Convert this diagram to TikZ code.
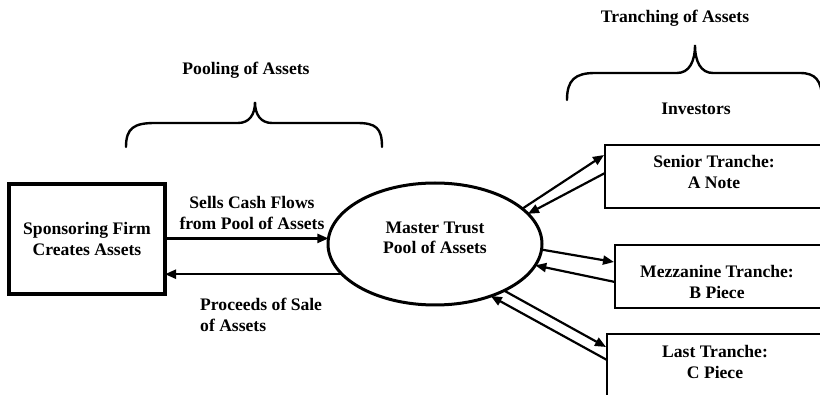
\documentclass[tikz,border=0pt]{standalone}
\usepackage{fontspec}
\setmainfont{Liberation Serif}
\usetikzlibrary{arrows.meta,shapes.geometric,calc}
\begin{document}
\begin{tikzpicture}[x=1pt,y=-1pt,
  txt/.style={font=\fontsize{17.6}{20.5}\selectfont\bfseries, align=center, inner sep=0pt},
  arr/.style={line width=2.2pt, -{Triangle[length=11pt,width=9pt]}},
  tbox/.style={draw, line width=1.8pt, rectangle, minimum width=300pt, anchor=north west, inner sep=0pt, outer sep=0pt},
  brace/.style={line width=2.4pt, line cap=round}]
\clip (0,0) rectangle (820,395);
\fill[white] (0,0) rectangle (820,395);

% boxes
\node[draw, line width=3.5pt, minimum width=156pt, minimum height=110pt, inner sep=0pt, outer sep=0pt, txt] (sponsor) at (87,239) {Sponsoring Firm\\Creates Assets};
\node[ellipse, draw, line width=3pt, minimum width=214pt, minimum height=122pt, inner sep=0pt, outer sep=0pt] (ell) at (435,244) {};
\node[txt] (mastertxt) at (435,238) {Master Trust\\Pool of Assets};

\node[tbox, minimum height=63pt] (senior) at (605,145) {};
\node[tbox, minimum height=63pt] (mezz) at (615,245) {};
\node[tbox, minimum height=100pt] (last) at (607,334) {};
\node[txt] (seniortxt) at (714,172) {Senior Tranche:\\A Note};
\node[txt] (mezztxt) at (717,282) {Mezzanine Tranche:\\B Piece};
\node[txt] (lasttxt) at (715,362) {Last Tranche:\\C Piece};

% labels
\node[txt] (sells) at (252,213) {Sells Cash Flows\\from Pool of Assets};
\node[txt, align=left, anchor=west] (proceeds) at (200,315) {Proceeds of Sale\\of Assets};
\node[txt] (pooling) at (246,70) {Pooling of Assets};
\node[txt] (tranching) at (675,18) {Tranching of Assets};
\node[txt] (investors) at (696,109) {Investors};

% left arrows
\draw[arr] (ell.177 -| sponsor.east) -- (ell.177);
\draw[arr] (ell.198) -- (ell.198 -| sponsor.east);

% right arrows
\coordinate (s1) at ($(senior.north west)+(-1,10)$);
\coordinate (s2) at ($(senior.north west)+(0,28)$);
\coordinate (m1) at ($(mezz.north west)+(-1,17)$);
\coordinate (m2) at ($(mezz.north west)+(0,37)$);
\coordinate (l1) at ($(last.north west)+(-1,13)$);
\coordinate (l2) at ($(last.north west)+(0,26)$);
\draw[arr] (ell.22) -- (s1);
\draw[arr] (s2) -- (ell.18);
\draw[arr] (ell.-3) -- (m1);
\draw[arr] (m2) -- (ell.-12);
\draw[arr] (ell.-34) -- (l1);
\draw[arr] (l2) -- (ell.-43);

% braces
\draw[brace] (126,147) .. controls (126,128) and (134,123) .. (155,123) -- (238,123)
  .. controls (249,123) and (255,115) .. (255,102)
  .. controls (255,115) and (261,123) .. (272,123) -- (357,123)
  .. controls (376,123) and (382,128) .. (382,147);
\draw[brace] (567,100) .. controls (567,80) and (575,73) .. (595,73) -- (677,73)
  .. controls (689,73) and (695,62) .. (695,45)
  .. controls (695,62) and (701,73) .. (713,73) -- (800,73)
  .. controls (815,73) and (822,80) .. (822,100);
\end{tikzpicture}
\end{document}
